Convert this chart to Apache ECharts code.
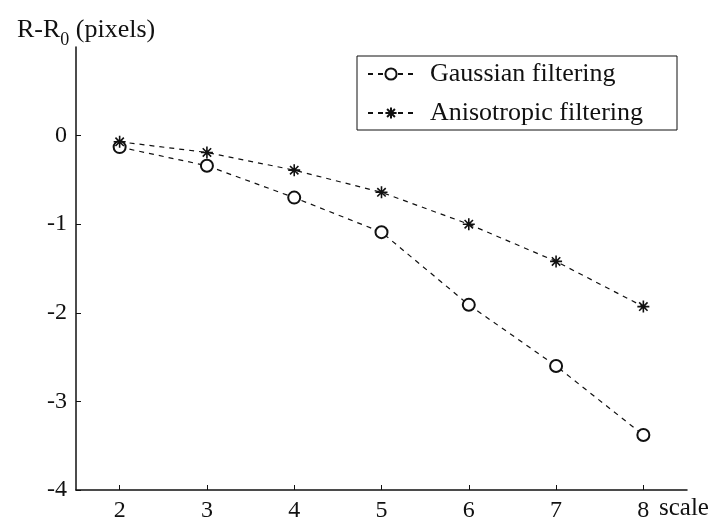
<!DOCTYPE html>
<html>
<head>
<meta charset="utf-8">
<script src="https://cdn.jsdelivr.net/npm/echarts@6/dist/echarts.min.js"></script>
<style>
  html, body { margin: 0; padding: 0; background: #fff; }
  #main { width: 722px; height: 527px; }
</style>
</head>
<body>
<div id="main"></div>
<script>
// values
const scales = [2, 3, 4, 5, 6, 7, 8];
const gaussian = [-0.13, -0.34, -0.70, -1.09, -1.91, -2.60, -3.38];
const anisotropic = [-0.07, -0.19, -0.39, -0.64, -1.00, -1.42, -1.93];
const yTicks = [-4, -3, -2, -1, 0];

const font = "'Liberation Serif', 'Times New Roman', serif";
const ink = "#111";

// asterisk marker like matlab's '*'
const star = "path://M5,0 L5,10 M0,5 L10,5 M1.5,1.5 L8.5,8.5 M1.5,8.5 L8.5,1.5";

let myChart = echarts.init(document.getElementById("main"));

let options = {
  animation: false,
  backgroundColor: "#fff",
  title: {
    text: "{a|R-R}{s|0}{a| (pixels)}",
    left: 12,
    top: 12,
    textStyle: {
      fontWeight: "normal",
      rich: {
        a: { fontFamily: font, fontSize: 26, fontWeight: "normal", color: ink, lineHeight: 32, verticalAlign: "top" },
        s: { fontFamily: font, fontSize: 18, fontWeight: "normal", color: ink, lineHeight: 32, verticalAlign: "bottom" },
      },
    },
  },
  grid: { left: 76, right: 35, top: 47, bottom: 37 },
  legend: {
    orient: "vertical",
    left: 357,
    top: 56,
    padding: [5, 34, 4, 10],
    itemWidth: 46,
    itemHeight: 14,
    itemGap: 13,
    borderColor: ink,
    borderWidth: 1,
    textStyle: { fontFamily: font, fontSize: 26, color: ink, lineHeight: 26, padding: [0, 0, 0, 11] },
    data: ["Gaussian filtering", "Anisotropic filtering"],
  },
  xAxis: {
    type: "value",
    min: 1.5,
    max: 8.5,
    axisLine: { onZero: false, lineStyle: { color: ink, width: 1.5 } },
    axisTick: { inside: true, length: 5, customValues: scales, lineStyle: { color: ink } },
    axisLabel: { customValues: scales, fontFamily: font, fontSize: 24, color: ink, margin: 9 },
    splitLine: { show: false },
  },
  yAxis: {
    type: "value",
    min: -4,
    max: 1,
    axisLine: { show: true, lineStyle: { color: ink, width: 1.5 } },
    axisTick: { show: true, inside: true, length: 5, customValues: yTicks, lineStyle: { color: ink } },
    axisLabel: { customValues: yTicks, fontFamily: font, fontSize: 24, color: ink, margin: 9 },
    splitLine: { show: false },
  },
  graphic: [
    {
      type: "text",
      left: 659,
      top: 496,
      style: { text: "scale", font: "25px " + font, fill: ink },
    },
  ],
  series: [
    {
      name: "Gaussian filtering",
      type: "line",
      data: scales.map((s, i) => [s, gaussian[i]]),
      symbol: "emptyCircle",
      symbolSize: 12,
      lineStyle: { color: ink, width: 1.2, type: [5, 5] },
      itemStyle: { color: ink, borderColor: ink, borderWidth: 1.5 },
    },
    {
      name: "Anisotropic filtering",
      type: "line",
      data: scales.map((s, i) => [s, anisotropic[i]]),
      symbol: star,
      symbolSize: 12,
      lineStyle: { color: ink, width: 1.2, type: [5, 5] },
      itemStyle: { color: ink, borderColor: ink, borderWidth: 1.6 },
    },
  ],
};

myChart.setOption(options);
</script>
</body>
</html>
